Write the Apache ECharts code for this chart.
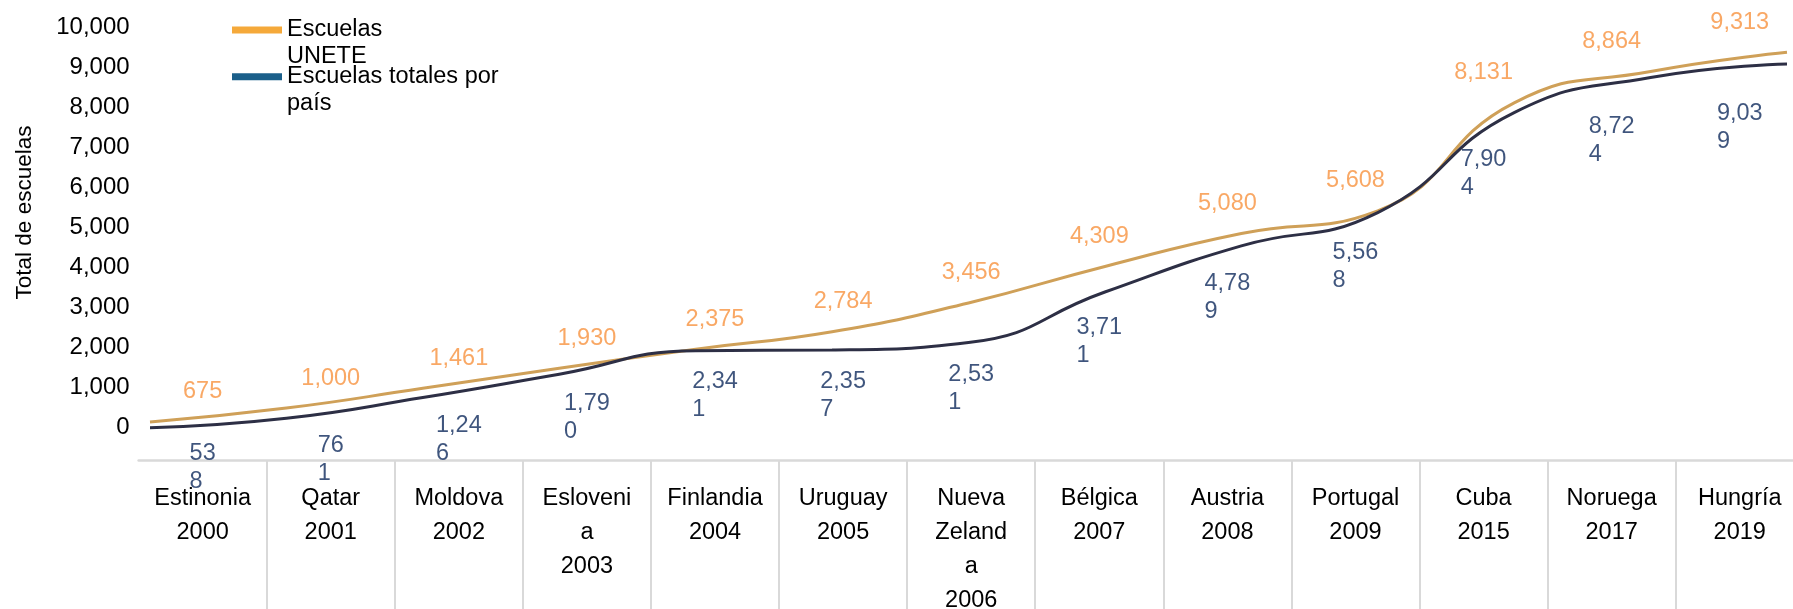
<!DOCTYPE html>
<html><head><meta charset="utf-8">
<script src="https://cdn.jsdelivr.net/npm/echarts@6/dist/echarts.min.js"></script>
<style>html,body{margin:0;padding:0;background:#fff}#c{width:1793px;height:609px}</style>
</head><body><div id="c"></div>
<script>
// ---- data ----
const countries = ['Estinonia','Qatar','Moldova','Esloveni\na','Finlandia','Uruguay','Nueva\nZeland\na','Bélgica','Austria','Portugal','Cuba','Noruega','Hungría'];
const years = ['2000','2001','2002','2003','2004','2005','2006','2007','2008','2009','2015','2017','2019'];
const unete = [675,1000,1461,1930,2375,2784,3456,4309,5080,5608,8131,8864,9313];
const totales = [538,761,1246,1790,2341,2357,2531,3711,4789,5568,7904,8724,9039];
const seriesNames = ['Escuelas\nUNETE','Escuelas totales por\npaís'];
const yAxisTitle = 'Total de escuelas';
const yMin = 0, yMax = 10000, yStep = 1000;

// ---- chart ----
const FONT = '"Liberation Sans", Arial, sans-serif';
const cats = countries.map((c, i) => c + '\n' + years[i]);
const fmt = v => Number(v).toLocaleString('en-US');
const chart = echarts.init(document.getElementById('c'), null, {renderer: 'canvas'});
const legendCommon = {
  orient: 'vertical', left: 232, padding: 0, icon: 'rect', itemWidth: 50, itemHeight: 7,
  selectedMode: false, formatter: n => '\n' + n,
  textStyle: {fontFamily: FONT, fontSize: 23.5, color: '#000', lineHeight: 27}
};
chart.setOption({
  animation: false,
  backgroundColor: '#fff',
  textStyle: {fontFamily: FONT},
  legend: [
    Object.assign({}, legendCommon, {top: -10.5, data: [{name: seriesNames[0], itemStyle: {color: '#F5A93A'}, lineStyle: {color: '#F5A93A', width: 0}}]}),
    Object.assign({}, legendCommon, {top: 36.2, data: [{name: seriesNames[1], itemStyle: {color: '#1B5F8A'}, lineStyle: {color: '#1B5F8A', width: 0}}]})
  ],
  grid: [
    {left: 138.6, width: 1665.2, top: 27.5, height: 400, outerBoundsMode: 'none', containLabel: false},
    {left: 150, width: 1637, top: 22.85, height: 428, outerBoundsMode: 'none', containLabel: false},
    {left: 138.6, width: 1665.2, top: 22.85, height: 428, outerBoundsMode: 'none', containLabel: false}
  ],
  xAxis: [
    {gridIndex: 0, type: 'category', data: cats, boundaryGap: true, offset: 33,
      axisLine: {onZero: false, lineStyle: {color: '#d9d9d9', width: 2.5}},
      axisTick: {show: true, length: 150, interval: (i) => i !== 0, lineStyle: {color: '#d9d9d9', width: 2}},
      axisLabel: {interval: 0, color: '#000', fontSize: 23.5, lineHeight: 34, margin: 21, fontFamily: FONT}},
    {gridIndex: 1, type: 'category', data: cats, boundaryGap: false, show: false},
    {gridIndex: 2, type: 'category', data: cats, boundaryGap: true, show: false}
  ],
  yAxis: [
    {gridIndex: 0, type: 'value', min: yMin, max: yMax, interval: yStep,
      axisLine: {show: false}, axisTick: {show: false}, splitLine: {show: false},
      axisLabel: {color: '#000', fontSize: 24, margin: 9, fontFamily: FONT, formatter: fmt},
      name: yAxisTitle, nameLocation: 'middle', nameGap: 102, nameRotate: 90,
      nameTextStyle: {color: '#000', fontSize: 22.5, fontFamily: FONT, padding: [0, 0, 0, 30]}},
    {gridIndex: 1, type: 'value', min: yMin, max: yMax, show: false},
    {gridIndex: 2, type: 'value', min: yMin, max: yMax, show: false}
  ],
  series: [
    {name: seriesNames[0], type: 'line', xAxisIndex: 1, yAxisIndex: 1, data: unete, smooth: 0.5,
      symbol: 'none', lineStyle: {color: '#cfa058', width: 3}, itemStyle: {color: '#cfa058'}, z: 2},
    {name: seriesNames[1], type: 'line', xAxisIndex: 1, yAxisIndex: 1, data: totales, smooth: 0.5,
      symbol: 'none', lineStyle: {color: '#2d2f45', width: 3}, itemStyle: {color: '#2d2f45'}, z: 3},
    {type: 'scatter', xAxisIndex: 2, yAxisIndex: 2, data: unete, symbolSize: 0, silent: true,
      label: {show: true, position: 'top', distance: 18, color: '#F7923F', fontSize: 23.5, lineHeight: 24,
        fontFamily: FONT, formatter: p => fmt(p.value)}},
    {type: 'scatter', xAxisIndex: 0, yAxisIndex: 0, data: totales, symbolSize: 0, silent: true,
      label: {show: true, position: 'bottom', distance: 34, align: 'left', color: '#0f2a5c', fontSize: 23.5,
        lineHeight: 28, fontFamily: FONT,
        formatter: p => { const s = fmt(p.value); return s.slice(0, -1) + '\n' + s.slice(-1); }},
      labelLayout: p => ({dx: -p.labelRect.width / 2})}
  ]
});
</script></body></html>
